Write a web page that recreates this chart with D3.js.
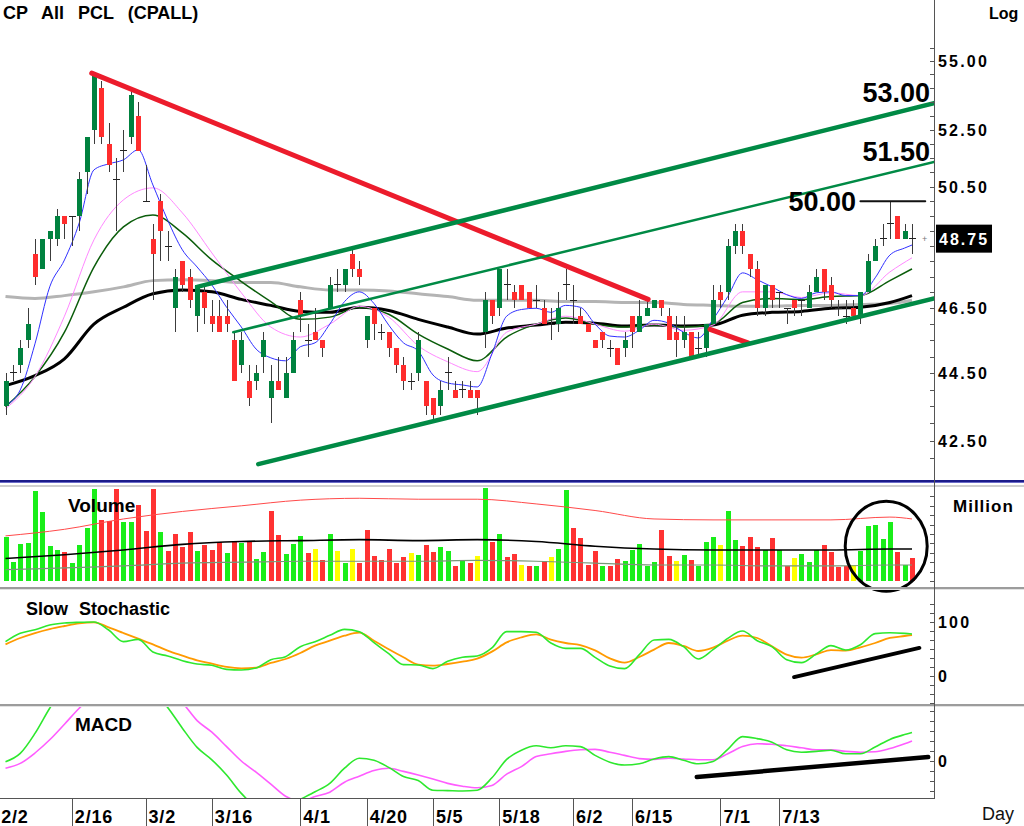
<!DOCTYPE html>
<html lang="en">
<head>
<meta charset="UTF-8">
<title>CP All PCL (CPALL)</title>
<script src="https://d3js.org/d3.v7.min.js"></script>
<style>
  body { margin: 0; background: #fff; }
  svg { display: block; font-family: Arial, "Liberation Sans", sans-serif; }
  .lbl { font-weight: bold; fill: #000; }
</style>
</head>
<body>
<svg id="chart" width="1024" height="826"></svg>
<script>
// ---------------- data ----------------
const opens = [
  43.5,44.5,44.75,45.5,48.25,47.75,48.75,48.75,49.5,49.5,
  49.5,51.0,52.5,54.0,52.0,50.75,51.75,52.25,53.0,50.0,
  48.75,50.0,48.5,46.5,48.0,47.5,46.25,47.0,46.25,46.25,
  46.25,45.5,44.75,44.25,44.25,45.0,43.75,44.25,43.75,44.5,
  46.75,45.5,45.75,45.5,46.5,47.25,47.25,48.25,47.75,45.5,
  46.5,45.75,45.75,45.25,44.75,44.25,44.5,44.25,43.75,43.5,
  44.5,44.0,44.0,44.0,44.0,45.75,46.75,46.5,47.25,47.0,
  47.25,47.0,46.75,46.5,46.0,46.0,47.25,46.75,46.25,46.0,
  45.5,45.75,45.25,45.25,45.25,46.25,45.75,46.25,46.5,46.75,
  46.25,45.75,45.5,45.75,45.25,45.25,46.0,47.0,47.0,48.5,
  49.0,48.25,47.75,46.5,47.25,47.0,46.5,46.75,46.75,46.5,
  47.0,47.75,47.25,46.5,46.25,46.5,46.25,47.0,48.0,48.75,
  49.25,49.5,48.75,48.75];
const highs = [
  44.5,44.75,45.5,46.5,48.75,48.75,49.0,49.75,49.5,49.5,
  51.0,52.25,54.5,54.25,52.75,51.5,52.5,54.0,53.5,51.25,
  49.25,50.25,49.0,47.75,48.0,47.75,47.25,47.25,46.75,46.75,
  46.75,45.75,45.75,44.75,44.75,45.75,44.75,45.0,45.0,45.75,
  47.0,46.0,46.5,45.5,47.5,47.75,47.75,48.5,48.0,46.25,
  46.5,46.0,45.75,45.25,45.0,44.5,45.75,44.25,43.75,44.25,
  45.0,44.25,44.25,44.25,44.0,47.0,46.75,47.75,47.75,47.25,
  47.25,47.0,47.25,46.75,46.5,47.0,47.75,47.25,46.5,46.0,
  45.5,45.75,45.5,45.25,45.75,46.25,46.75,46.75,46.75,46.75,
  46.5,46.25,46.25,45.75,45.75,46.0,47.25,47.25,48.75,49.25,
  49.25,48.25,48.0,47.25,47.25,47.0,46.5,46.75,46.75,47.25,
  47.75,47.75,47.5,46.75,46.75,46.75,47.0,48.25,48.75,49.25,
  50.0,49.5,49.25,49.25];
const lows = [
  43.25,44.25,44.5,45.25,47.25,47.75,48.0,48.5,48.75,48.5,
  49.0,50.25,52.0,52.0,51.0,49.0,51.0,52.0,51.75,50.0,
  46.75,48.0,48.0,45.75,47.0,46.5,45.75,46.0,45.75,45.75,
  45.75,44.25,44.5,43.5,44.0,44.5,43.0,44.0,43.75,44.5,
  45.75,45.0,45.5,45.0,46.5,47.0,47.0,47.5,47.25,45.25,
  45.5,45.5,45.0,44.5,44.0,44.0,44.25,43.25,43.0,43.25,
  44.0,43.75,43.75,43.75,43.25,45.25,46.0,46.25,46.75,46.5,
  46.75,46.5,46.5,46.0,45.5,45.75,46.75,46.0,46.0,45.75,
  45.25,45.25,45.0,44.75,45.0,45.25,45.75,46.25,46.5,46.25,
  45.5,45.0,45.25,45.0,45.0,45.0,46.0,46.5,46.75,48.25,
  48.25,47.5,46.25,46.25,46.5,46.5,46.0,46.25,46.25,46.5,
  47.0,46.75,46.5,46.25,46.0,46.25,46.0,47.0,48.0,48.5,
  48.75,48.75,48.75,48.25];
const closes = [
  44.25,44.5,45.25,46.0,47.5,48.75,49.0,49.5,49.25,49.5,
  50.75,52.25,54.5,52.25,51.25,50.75,51.75,53.75,51.75,50.0,
  48.25,49.0,48.5,47.5,47.25,46.75,47.25,46.5,46.0,45.75,
  46.0,44.25,45.5,43.75,44.5,45.5,44.25,44.0,44.5,45.5,
  46.25,45.5,45.5,45.25,47.25,47.25,47.75,47.75,47.5,46.25,
  46.0,45.75,45.25,44.75,44.25,44.25,45.5,43.5,43.25,44.0,
  44.5,43.75,44.0,43.75,43.75,46.75,46.25,47.75,47.25,46.75,
  46.75,46.5,46.75,46.0,46.0,46.5,47.25,46.75,46.0,45.75,
  45.25,45.5,45.25,44.75,45.5,45.75,46.25,46.5,46.75,46.5,
  45.5,45.5,45.75,45.0,45.25,46.0,46.75,46.75,48.5,49.0,
  48.5,47.75,46.5,47.25,46.75,47.0,46.5,46.5,46.75,47.0,
  47.5,47.0,46.75,46.5,46.25,46.25,47.0,48.0,48.5,48.75,
  49.25,48.75,49.0,48.75];
// volume, million shares
const volumes = [
  47,20,39,40,96,73,37,33,31,19,
  38,56,98,65,64,98,63,63,81,53,
  98,52,32,50,36,52,32,38,33,41,
  30,42,40,42,23,31,74,49,29,39,
  48,30,34,22,50,32,19,34,19,54,
  27,22,34,19,26,30,28,38,31,36,
  32,16,22,19,27,99,41,50,26,29,
  17,16,16,21,26,34,97,56,46,17,
  32,16,16,23,21,33,39,16,20,54,
  27,21,28,22,16,41,47,38,74,44,
  37,47,36,33,46,33,16,25,29,20,
  33,38,31,15,16,17,32,58,60,45,
  63,31,17,25];

// sample positions (bar index) of the indicator lines
const idx2 = d3.range(0, 123, 2).concat([123]);
const idx4 = d3.range(0, 121, 4).concat([123]);
const idx8 = d3.range(0, 121, 8).concat([123]);

// moving averages on price
const maBlue = [
  43.54,43.99,45.39,47.18,48.05,49.27,51.08,51.29,51.43,51.78,
  50.56,49.37,48.38,47.82,47.24,46.53,45.91,45.23,44.96,44.87,
  45.30,45.42,46.00,46.71,47.02,46.65,45.97,45.42,45.17,44.44,
  44.20,44.14,44.08,45.08,46.25,46.46,46.50,46.37,46.59,46.53,
  46.00,45.63,45.60,45.81,46.12,46.03,45.75,45.57,46.15,46.87,
  47.63,47.41,47.18,46.93,46.81,46.99,47.02,46.90,46.90,47.47,
  48.21,48.44,48.54];
const maPink = [43.43,44.39,46.25,48.71,50.05,50.46,49.61,48.28,46.99,45.91,45.60,46.00,46.56,46.22,45.33,44.84,
  44.54,45.75,46.00,46.25,46.00,45.78,46.00,45.81,45.97,47.02,47.02,46.84,46.99,46.90,47.66,48.12];
const maGreen = [43.49,44.39,45.75,47.82,49.14,49.54,48.94,48.05,47.35,46.71,46.15,46.22,46.53,46.31,45.69,45.23,
  44.87,45.60,46.00,46.19,46.00,45.91,45.97,45.91,46.00,46.68,46.81,46.78,46.87,46.90,47.38,47.76];
const maBlack = [44.12,44.42,44.93,46.00,46.53,46.96,47.08,47.02,46.78,46.59,46.40,46.37,46.53,46.43,46.15,45.91,
  45.69,45.88,45.97,46.06,46.03,45.94,45.97,45.94,45.97,46.28,46.37,46.40,46.50,46.53,46.68,46.90];
const maGray = [46.87,46.81,46.90,47.02,47.18,47.38,47.41,47.38,47.32,47.32,47.18,47.08,47.08,47.05,46.96,46.87,
  46.75,46.75,46.75,46.71,46.71,46.68,46.68,46.62,46.59,46.56,46.56,46.59,46.59,46.62,46.65,46.75];

// volume bands
const volRed = [48,55,66,74,80,86,88,87,87,82,75,66,65,65,65,68,66];
const volBlack = [24,28,33,39,42,43,44,43,44,42,37,34,33,33,33,34,34];
const volGray = [12,14,16,19,20,21,21,21,22,21,19,17,17,16,16,17,17];

// slow stochastic %K / %D
const stochK = [
  63.6,79.0,85.8,94.4,98.1,99.4,100,85.2,63.6,67.9,
  44.4,37.0,28.4,22.2,19.8,12.3,11.1,14.8,30.2,35.8,
  54.3,63.6,75.3,86.4,82.1,61.7,41.4,21.0,20.4,13.6,
  27.2,34.6,37.0,51.9,82.1,82.1,80.9,61.1,51.2,51.2,
  34.6,18.5,13.6,39.5,66.7,67.9,54.3,31.5,48.8,69.8,
  83.3,65.4,54.3,30.2,24.7,40.7,56.2,48.1,58.0,78.4,
  80.2,79.0,77.8];
const stochD = [
  58.6,70.4,79.6,87.0,92.6,97.5,99.4,90.1,79.6,69.1,
  58.6,46.9,37.7,29.0,22.8,16.7,14.2,15.4,24.1,31.5,
  42.6,56.2,65.4,74.7,80.2,65.4,49.4,34.6,21.0,19.1,
  22.2,26.5,32.1,45.1,62.3,71.6,77.2,67.3,61.1,57.4,
  47.5,32.7,24.7,35.2,48.8,61.1,55.6,46.3,52.5,65.4,
  74.7,70.4,54.9,39.5,34.0,40.1,48.1,46.9,53.1,61.1,
  70.4,74.1,75.9];

// MACD and signal
const macdLine = [
  -0.02,0.19,0.69,1.32,1.85,2.25,2.5,2.55,2.4,2.1,
  1.75,1.34,0.82,0.34,0.03,-0.35,-0.81,-1.15,-1.3,-1.15,
  -0.96,-0.77,-0.56,-0.18,0.07,0.02,-0.16,-0.39,-0.49,-0.73,
  -0.74,-0.75,-0.73,-0.42,0.04,0.27,0.38,0.33,0.38,0.36,
  0.14,-0.03,-0.10,-0.07,0.05,0.11,0.02,-0.07,-0.01,0.29,
  0.61,0.56,0.47,0.28,0.22,0.24,0.27,0.18,0.18,0.35,
  0.54,0.66,0.71];
const macdSignal = [
  -0.18,-0.06,0.2,0.53,0.92,1.32,1.65,1.9,2.05,2.05,
  1.9,1.7,1.45,1.01,0.72,0.36,0.0,-0.28,-0.58,-0.88,
  -1.0,-0.89,-0.78,-0.53,-0.38,-0.24,-0.18,-0.26,-0.35,-0.45,
  -0.56,-0.63,-0.67,-0.61,-0.33,-0.14,0.11,0.18,0.24,0.28,
  0.29,0.22,0.14,0.06,0.04,0.07,0.05,0.03,0.03,0.18,
  0.36,0.43,0.42,0.38,0.33,0.28,0.28,0.24,0.22,0.23,
  0.31,0.43,0.5];

// date ticks
const dateLabels = ["2/2","2/16","3/2","3/16","4/1","4/20","5/5","5/18","6/2","6/15","7/1","7/13"];
const dateIndex = [-1,9,19,28,40,49,58,67,77,85,97,105];

// price axis
const priceLabels = [55, 52.5, 50.5, 46.5, 44.5, 42.5];
const lastPrice = 48.75;

// drawn annotations, as [bar index, value]
const redTrend = [[[11.7, 54.55], [87.2, 46.78]], [[95.6, 45.84], [100.75, 45.42]]];
const channelUpper = [[26.0, 47.18], [126.0, 53.45]];
const channelMid = [[30.9, 45.75], [126.0, 51.36]];
const channelLower = [[34.3, 41.83], [126.0, 46.81]];
const targets = [{ text: "53.00", at: 126 }, { text: "51.50", at: 126 }];
const level50 = [[116.0, 50.0], [124.8, 50.0]];
const stochTrend = [[107, -2], [124, 52]];
const macdTrend = [[93.8, -0.4], [125.2, 0.1]];

// ---------------- chart ----------------
const AX = 934;
const svg = d3.select('#chart');
const x = d3.scaleLinear().domain([0, 123]).range([5.5, 912]);
const yP = d3.scaleLog().domain([42.5, 55]).range([440.7, 61]);
const yV = d3.scaleLinear().domain([0, 100]).range([581, 487]);
const yS = d3.scaleLinear().domain([0, 100]).range([676, 622]);
const yM = d3.scaleLinear().domain([-1, 1]).range([801, 721]);

const defs = svg.append('defs');
function addClip(id, y0, y1) {
  defs.append('clipPath').attr('id', id)
    .append('rect').attr('x', 0).attr('y', y0).attr('width', AX).attr('height', y1 - y0);
}
addClip('cPrice', 0, 480);
addClip('cVol', 487, 587);
addClip('cSto', 591, 704);
addClip('cMacd', 707, 798);

function drawSeries(g, idx, vals, yScale, color, width, curve) {
  const line = d3.line()
    .x((d, k) => x(idx[k]))
    .y(d => yScale(d))
    .curve(curve || d3.curveMonotoneX);
  g.append('path').datum(vals)
    .attr('d', line)
    .attr('fill', 'none')
    .attr('stroke', color)
    .attr('stroke-width', width)
    .attr('stroke-linejoin', 'round');
}
function drawSegment(g, pts, yScale, color, width) {
  g.append('line')
    .attr('x1', x(pts[0][0])).attr('y1', yScale(pts[0][1]))
    .attr('x2', x(pts[1][0])).attr('y2', yScale(pts[1][1]))
    .attr('stroke', color).attr('stroke-width', width)
    .attr('stroke-linecap', 'round');
}

// ---- price panel ----
const gP = svg.append('g').attr('clip-path', 'url(#cPrice)');
drawSeries(gP, idx4, maGray, yP, '#b4b4b4', 3);
drawSeries(gP, idx4, maBlack, yP, '#000', 3);
drawSeries(gP, idx4, maGreen, yP, '#0b5d0b', 1.5);
drawSeries(gP, idx4, maPink, yP, '#ff88ff', 1);
drawSeries(gP, idx2, maBlue, yP, '#3030ff', 1);

const candles = closes.map((c, i) => ({ i, o: opens[i], h: highs[i], l: lows[i], c }));
const gC = gP.append('g').attr('shape-rendering', 'crispEdges');
gC.selectAll('line.wick').data(candles).join('line')
  .attr('class', 'wick')
  .attr('x1', d => Math.round(x(d.i)) + 0.5).attr('x2', d => Math.round(x(d.i)) + 0.5)
  .attr('y1', d => yP(d.h)).attr('y2', d => yP(d.l))
  .attr('stroke', '#3c3c3c').attr('stroke-width', 1);
gC.selectAll('rect.body').data(candles.filter(d => d.o !== d.c)).join('rect')
  .attr('class', 'body')
  .attr('x', d => Math.round(x(d.i)) - 2).attr('width', 5)
  .attr('y', d => yP(Math.max(d.o, d.c)))
  .attr('height', d => Math.abs(yP(d.o) - yP(d.c)))
  .attr('fill', d => d.c > d.o ? '#00823f' : '#ff2d2d');
gC.selectAll('line.doji').data(candles.filter(d => d.o === d.c)).join('line')
  .attr('class', 'doji')
  .attr('x1', d => Math.round(x(d.i)) - 3).attr('x2', d => Math.round(x(d.i)) + 4)
  .attr('y1', d => yP(d.c)).attr('y2', d => yP(d.c))
  .attr('stroke', '#222').attr('stroke-width', 1);

redTrend.forEach(seg => drawSegment(gP, seg, yP, '#ec1c2c', 5));
drawSegment(gP, channelUpper, yP, '#008a45', 4.5);
drawSegment(gP, channelMid, yP, '#008a45', 2.5);
drawSegment(gP, channelLower, yP, '#008a45', 4.5);
drawSegment(gP, level50, yP, '#111', 2);

// target labels
svg.append('text').attr('class', 'lbl').attr('x', 930).attr('y', yP(channelUpper[1][1]) - 1)
  .attr('text-anchor', 'end').attr('font-size', 27).text(targets[0].text);
svg.append('text').attr('class', 'lbl').attr('x', 930).attr('y', yP(channelMid[1][1]) - 1)
  .attr('text-anchor', 'end').attr('font-size', 27).text(targets[1].text);
svg.append('text').attr('class', 'lbl').attr('x', 856).attr('y', yP(50) + 9.5)
  .attr('text-anchor', 'end').attr('font-size', 27).text('50.00');

// ---- volume panel ----
const gV = svg.append('g').attr('clip-path', 'url(#cVol)');
const volColor = i => {
  const prev = i ? closes[i - 1] : opens[0];
  return closes[i] > prev ? '#19ee19' : closes[i] < prev ? '#ff3232' : '#ffff00';
};
gV.append('g').attr('shape-rendering', 'crispEdges')
  .selectAll('rect').data(volumes).join('rect')
  .attr('x', (d, i) => Math.round(x(i)) - 2).attr('width', 5)
  .attr('y', d => yV(d)).attr('height', d => yV(0) - yV(d))
  .attr('fill', (d, i) => volColor(i));
drawSeries(gV, idx8, volRed, yV, '#ff4a4a', 1);
drawSeries(gV, idx8, volGray, yV, '#789878', 1.2);
drawSeries(gV, idx8, volBlack, yV, '#000', 1.6);
svg.append('text').attr('class', 'lbl').attr('x', 68).attr('y', 512).attr('font-size', 19).text('Volume');
svg.append('ellipse')
  .attr('cx', x(119.5)).attr('cy', yV(37))
  .attr('rx', 41).attr('ry', 45)
  .attr('fill', 'none').attr('stroke', '#000').attr('stroke-width', 3);

// ---- stochastic panel ----
const gS = svg.append('g').attr('clip-path', 'url(#cSto)');
drawSeries(gS, idx2, stochD, yS, '#ff9a00', 1.8);
drawSeries(gS, idx2, stochK, yS, '#2ee82e', 1.6);
drawSegment(gS, stochTrend, yS, '#000', 4);
svg.append('text').attr('class', 'lbl').attr('x', 26).attr('y', 615)
  .attr('font-size', 18).style('word-spacing', '6px').text('Slow Stochastic');

// ---- MACD panel ----
const gM = svg.append('g').attr('clip-path', 'url(#cMacd)');
drawSeries(gM, idx2, macdSignal, yM, '#ff5cff', 1.6);
drawSeries(gM, idx2, macdLine, yM, '#2ee82e', 1.6);
drawSegment(gM, macdTrend, yM, '#000', 4.5);
svg.append('text').attr('class', 'lbl').attr('x', 75).attr('y', 731).attr('font-size', 19).text('MACD');

// ---- frames & separators ----
const frame = svg.append('g').attr('shape-rendering', 'crispEdges');
frame.append('rect').attr('x', 0).attr('y', 480).attr('width', 1024).attr('height', 2).attr('fill', '#1b1b8a');
frame.append('rect').attr('x', 0).attr('y', 482).attr('width', 1024).attr('height', 1).attr('fill', '#6b6bc8');
frame.append('rect').attr('x', 0).attr('y', 485).attr('width', 1024).attr('height', 2).attr('fill', '#cfcfcf');
[587, 704].forEach(yy => {
  frame.append('rect').attr('x', 0).attr('y', yy).attr('width', 1024).attr('height', 2).attr('fill', '#9c9c9c');
  frame.append('rect').attr('x', 0).attr('y', yy + 2).attr('width', 1024).attr('height', 1).attr('fill', '#e2e2e2');
});
frame.append('line').attr('x1', AX + 0.5).attr('x2', AX + 0.5).attr('y1', 0).attr('y2', 799)
  .attr('stroke', '#555').attr('stroke-width', 1);
frame.append('line').attr('x1', 0).attr('x2', AX).attr('y1', 798.5).attr('y2', 798.5)
  .attr('stroke', '#555').attr('stroke-width', 1);

// right axis ticks
function ticks(vals, yScale, y0, y1) {
  frame.selectAll(null).data(vals.filter(v => yScale(v) >= y0 && yScale(v) <= y1)).join('line')
    .attr('x1', AX - 4).attr('x2', AX)
    .attr('y1', d => Math.round(yScale(d)) + 0.5).attr('y2', d => Math.round(yScale(d)) + 0.5)
    .attr('stroke', '#555');
}
ticks(d3.range(42, 55.6, 0.5), yP, 2, 478);
ticks(d3.range(0, 101, 10), yV, 488, 586);
ticks(d3.range(-50, 140, 100 / 6), yS, 592, 703);
ticks(d3.range(-1, 1.5, 0.25), yM, 708, 797);

// axis labels
const axisText = (xx, yy, t, size) => svg.append('text').attr('class', 'lbl')
  .attr('x', xx).attr('y', yy).attr('font-size', size || 16)
  .style('letter-spacing', '2.2px').text(t);
priceLabels.forEach(p => axisText(938, yP(p) + 6, p.toFixed(2)));
axisText(989, 19, 'Log', 16).style('letter-spacing', '0px');
svg.append('rect').attr('x', 936).attr('y', yP(lastPrice) - 14).attr('width', 56).attr('height', 28).attr('fill', '#000');
svg.append('text').attr('x', 939).attr('y', yP(lastPrice) + 6).attr('font-size', 16)
  .attr('font-weight', 'bold').attr('fill', '#fff').style('letter-spacing', '2px').text(lastPrice.toFixed(2));
svg.append('text').attr('x', 922).attr('y', yP(lastPrice) + 3).attr('font-size', 9).attr('fill', '#777').text('+');
axisText(953, 512, 'Million', 17).style('letter-spacing', '1px');
axisText(938, yS(100) + 6, '100');
axisText(938, yS(0) + 6, '0');
axisText(938, yM(0) + 6, '0');
svg.append('text').attr('x', 982).attr('y', 820).attr('font-size', 18).attr('fill', '#111').text('Day');

// date axis
const gD = svg.append('g');
gD.selectAll('line').data(dateIndex.slice(1)).join('line')
  .attr('x1', d => Math.round(x(d)) + 0.5).attr('x2', d => Math.round(x(d)) + 0.5)
  .attr('y1', 798).attr('y2', 826)
  .attr('stroke', '#555').attr('shape-rendering', 'crispEdges');
gD.selectAll('text').data(dateLabels).join('text')
  .attr('class', 'lbl')
  .attr('x', (d, k) => Math.max(1, x(dateIndex[k]) + 3))
  .attr('y', 823).attr('font-size', 18)
  .style('letter-spacing', '0.8px')
  .text(d => d);

// title
svg.append('text').attr('class', 'lbl').attr('x', 3).attr('y', 19).attr('font-size', 18)
  .style('word-spacing', '9px').text('CP All PCL (CPALL)');
</script>
</body>
</html>
